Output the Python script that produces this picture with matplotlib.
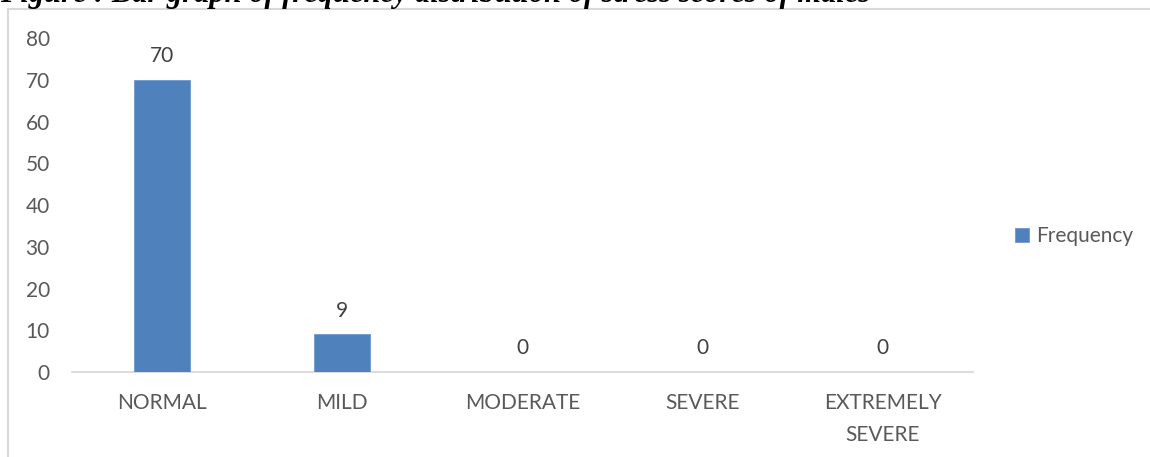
import matplotlib
matplotlib.use("Agg")
import matplotlib.pyplot as plt
from matplotlib.patches import Rectangle

categories = ["NORMAL", "MILD", "MODERATE", "SEVERE", "EXTREMELY\nSEVERE"]
frequency = [70, 9, 0, 0, 0]
y_ticks = [0, 10, 20, 30, 40, 50, 60, 70, 80]
series_name = "Frequency"
title = "Figure : Bar graph of frequency distribution of stress scores of males"

W, H = 1150, 457
DPI = 100
bar_color = "#4F81BD"
text_color = "#595959"
grid_color = "#D9D9D9"
label_font = ["Lato", "DejaVu Sans"]
fs = 15

fig = plt.figure(figsize=(W / DPI, H / DPI), dpi=DPI)

# chart frame (extends past the right and bottom edges)
fig.patches.append(Rectangle((8 / W, -0.1), 1.2, (H - 9) / H + 0.1,
                             transform=fig.transFigure, fill=False,
                             edgecolor=grid_color, linewidth=1.5))

# caption above the chart, partially clipped at the top
fig.text(0.0, 1 - 2 / H, title, ha="left", va="baseline",
         fontsize=22, fontweight="bold", fontstyle="italic",
         family=["Liberation Serif", "DejaVu Serif"], color="black")

x0, x1 = 72 / W, 973 / W
y_zero = 372
y_top = y_zero - 8 * (372 - 80) / 7
ax = fig.add_axes([x0, 1 - y_zero / H, x1 - x0, (y_zero - y_top) / H])

xs = list(range(len(categories)))
bars = ax.bar(xs, frequency, width=0.31, color=bar_color, label=series_name,
              edgecolor="#6E98CC", linewidth=0.6, zorder=3)

ax.set_xlim(-0.5, len(categories) - 0.5)
ax.set_ylim(0, 80)
ax.set_yticks(y_ticks)
ax.set_xticks(xs)
ax.set_xticklabels(categories, family=label_font, fontsize=fs,
                   color=text_color, linespacing=1.75)
ax.tick_params(axis="y", length=0, pad=16, labelcolor=text_color,
               labelsize=fs)
ax.tick_params(axis="x", length=0, pad=15)
for lab in ax.get_yticklabels():
    lab.set_family(label_font)

for side in ["top", "right", "left"]:
    ax.spines[side].set_visible(False)
ax.spines["bottom"].set_color(grid_color)
ax.spines["bottom"].set_linewidth(1.3)

for rect, val in zip(bars, frequency):
    ax.annotate(str(val), (rect.get_x() + rect.get_width() / 2, val),
                xytext=(0, 10), textcoords="offset points",
                ha="center", va="bottom", fontsize=fs,
                family=label_font, color="#404040")

leg = fig.legend(handles=[bars], labels=[series_name],
                 loc="center left", bbox_to_anchor=(1005 / W, 1 - 236 / H),
                 frameon=False, handlelength=0.65, handleheight=0.65,
                 handletextpad=0.35, borderpad=0, prop={"family": label_font,
                                                        "size": fs})
for t in leg.get_texts():
    t.set_color(text_color)

fig.savefig("out.png", dpi=DPI)
